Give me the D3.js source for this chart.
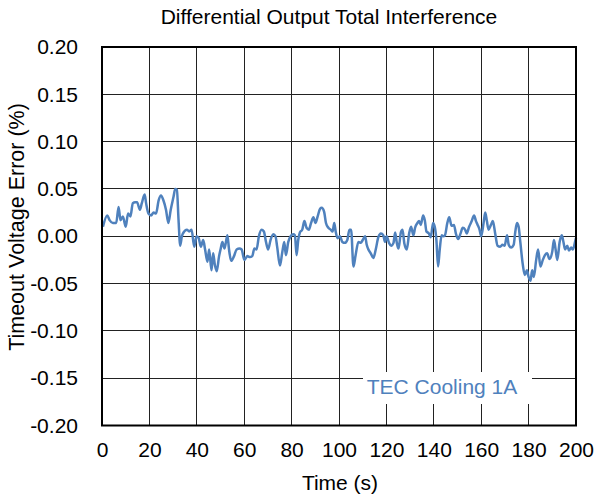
<!DOCTYPE html>
<html><head><meta charset="utf-8">
<script src="https://cdn.jsdelivr.net/npm/d3@7"></script>
<style>body{margin:0;background:#fff}svg{display:block;font-family:"Liberation Sans",Arial,sans-serif}</style>
</head><body><svg id="c" width="594" height="500"></svg>
<script>
const times = [0.4,2.2,3.2,4.6,6,7,7.8,8.8,10,11,12,13,14,14.8,16,16.8,18,18.6,19.6,20.7,21.8,22.8,23.9,24.9,25.9,27,28,29,30.2,30.9,31.6,32.3,33,33.7,34.7,35.8,36.8,37.8,38.9,39.9,40.8,41.7,42.7,43.5,44.5,45.2,46.2,46.9,47.6,48.4,49.4,50.1,50.8,51.7,52.9,53.6,54.5,55.7,56.8,58,58.9,60.1,61.3,62.4,63.4,64.3,65.2,66.2,67.3,68.3,69.2,70.1,71.1,72.3,73.2,73.9,75.1,76,76.9,77.6,78.6,79.6,80.7,81.4,82.1,82.8,83.5,84.5,85.4,86.3,87.3,88.2,89.2,90.1,91,92,92.7,93.7,94.5,95.5,96.5,97.3,98,98.6,99.4,100.4,101.4,102.5,103.5,104.4,105.1,106.1,107,108.2,109.2,110,111,111.7,112.4,113.4,114.5,115.5,116.6,117.7,118.7,119.4,120.1,121.1,122,123,123.7,124.4,125.1,126.1,126.8,127.6,128.6,129.6,130.4,131.4,132.1,133.1,133.8,134.5,135.5,136.2,136.9,137.9,138.7,139.7,140.4,141.1,141.8,142.5,143.3,144,144.7,145.7,146.5,147.5,148.5,149.3,150.3,151.3,152.2,153.2,153.9,154.9,156,157,157.8,158.5,159.3,160,161,161.7,162.4,163.1,164.1,164.9,165.9,166.9,168,169,169.9,170.9,171.6,172.6,173.7,174.4,175.1,175.8,176.5,177.5,178.4,179.3,180,180.8,181.5,182.2,183.2,184,185,186,186.9,187.8,188.8,190,190.7,191.4,192.1,193.1,194,194.7,195.4,196.3,197,198,198.7,199.6,200];
const errors = [0.010,0.022,0.017,0.014,0.014,0.031,0.017,0.021,0.010,0.024,0.021,0.035,0.036,0.036,0.028,0.035,0.044,0.035,0.024,0.022,0.025,0.024,0.038,0.043,0.038,0.028,0.014,0.028,0.042,0.050,0.049,0.017,-0.010,0.000,0.005,0.007,0.005,0.007,-0.011,0.000,-0.002,-0.011,-0.004,-0.014,-0.027,-0.014,-0.036,-0.018,-0.030,-0.037,-0.021,-0.013,-0.006,-0.013,0.001,-0.014,-0.026,-0.021,-0.014,-0.013,-0.014,-0.025,-0.021,-0.022,-0.021,-0.013,-0.014,0.000,0.007,0.005,-0.006,-0.014,-0.004,0.002,0.000,-0.011,-0.031,-0.018,-0.006,-0.020,-0.006,0.000,0.002,0.001,-0.020,-0.004,0.004,0.007,0.016,0.009,0.007,0.014,0.020,0.014,0.021,0.029,0.030,0.026,0.014,0.009,0.007,0.005,0.014,0.005,-0.002,0.000,-0.006,-0.007,-0.004,0.007,0.007,-0.032,-0.020,-0.006,-0.007,-0.004,0.000,-0.009,-0.014,-0.018,-0.023,-0.014,-0.001,0.003,0.001,-0.006,0.000,-0.007,-0.010,-0.007,0.004,-0.007,-0.013,0.004,0.007,-0.008,-0.014,0.003,0.010,0.001,0.009,0.014,0.016,0.012,0.022,0.017,0.005,0.003,-0.001,0.014,0.010,-0.004,-0.032,-0.014,0.001,0.000,0.001,0.014,0.020,0.011,0.012,0.003,-0.003,0.003,0.009,0.007,0.003,0.010,0.016,0.022,0.016,0.012,0.007,0.000,0.014,0.025,0.016,0.007,0.012,0.016,0.003,-0.010,-0.011,-0.009,-0.010,0.001,-0.009,-0.012,-0.009,0.005,0.014,0.010,-0.006,-0.029,-0.041,-0.036,-0.043,-0.047,-0.036,-0.043,-0.025,-0.014,-0.032,-0.025,-0.020,-0.018,-0.024,-0.016,-0.004,-0.014,-0.025,-0.006,0.001,-0.006,-0.014,-0.010,-0.015,-0.012,-0.014,-0.006,-0.002];
const xTicks = [0,20,40,60,80,100,120,140,160,180,200];
const yTicks = [-0.20,-0.15,-0.10,-0.05,0.00,0.05,0.10,0.15,0.20];
const title = "Differential Output Total Interference";
const xLabel = "Time (s)";
const yLabel = "Timeout Voltage Error (%)";
const seriesName = "TEC Cooling 1A";

const svg = d3.select("#c");
const L=102, R=576, T=47, B=425.5;
const x = d3.scaleLinear().domain([0,200]).range([L,R]);
const y = d3.scaleLinear().domain([-0.2,0.2]).range([B,T]);
const FONT = "Liberation Sans, Arial, sans-serif";

// grid
svg.append("g").selectAll("line").data(xTicks).join("line")
  .attr("x1",d=>x(d)).attr("x2",d=>x(d)).attr("y1",T).attr("y2",B)
  .attr("stroke","#222").attr("stroke-width",1).attr("shape-rendering","crispEdges");
svg.append("g").selectAll("line").data(yTicks).join("line")
  .attr("x1",L).attr("x2",R).attr("y1",d=>y(d)).attr("y2",d=>y(d))
  .attr("stroke","#222").attr("stroke-width",1).attr("shape-rendering","crispEdges");

// legend box (white, hides grid)
svg.append("rect").attr("x",363).attr("y",372).attr("width",169).attr("height",32).attr("fill","#fff");

// line
const data = times.map((t,i)=>[t,errors[i]]);
svg.append("path").datum(data)
  .attr("d",d3.line().x(d=>x(d[0])).y(d=>y(d[1])).curve(d3.curveMonotoneX))
  .attr("fill","none").attr("stroke","#4f81bd").attr("stroke-width",2.5).attr("stroke-linejoin","round");

// border
svg.append("rect").attr("x",L).attr("y",T).attr("width",R-L).attr("height",B-T)
  .attr("fill","none").attr("stroke","#000").attr("stroke-width",2);

// axes
const xAxis = d3.axisBottom(x).tickValues(xTicks).tickSize(0).tickPadding(17).tickFormat(d3.format("d"));
const gx = svg.append("g").attr("transform",`translate(0,${B})`).call(xAxis);
gx.select(".domain").remove();
gx.selectAll("text").attr("font-size",21).attr("fill","#000").attr("font-family",FONT);

const yFmt = d => d3.format(".2f")(d).replace("\u2212","-");
const yAxis = d3.axisLeft(y).tickValues(yTicks).tickSize(0).tickPadding(24).tickFormat(yFmt);
const gy = svg.append("g").attr("transform",`translate(${L},0)`).call(yAxis);
gy.select(".domain").remove();
gy.selectAll("text").attr("font-size",21).attr("fill","#000").attr("font-family",FONT);

svg.append("text").attr("x",329).attr("y",24).attr("text-anchor","middle").attr("font-size",21).text(title);
svg.append("text").attr("x",340).attr("y",490).attr("text-anchor","middle").attr("font-size",21).text(xLabel);
svg.append("text").attr("transform","translate(24,227) rotate(-90)").attr("text-anchor","middle").attr("font-size",21.5).text(yLabel);
svg.append("text").attr("x",442).attr("y",394).attr("text-anchor","middle").attr("font-size",21).attr("fill","#4f81bd").text(seriesName);
</script></body></html>
